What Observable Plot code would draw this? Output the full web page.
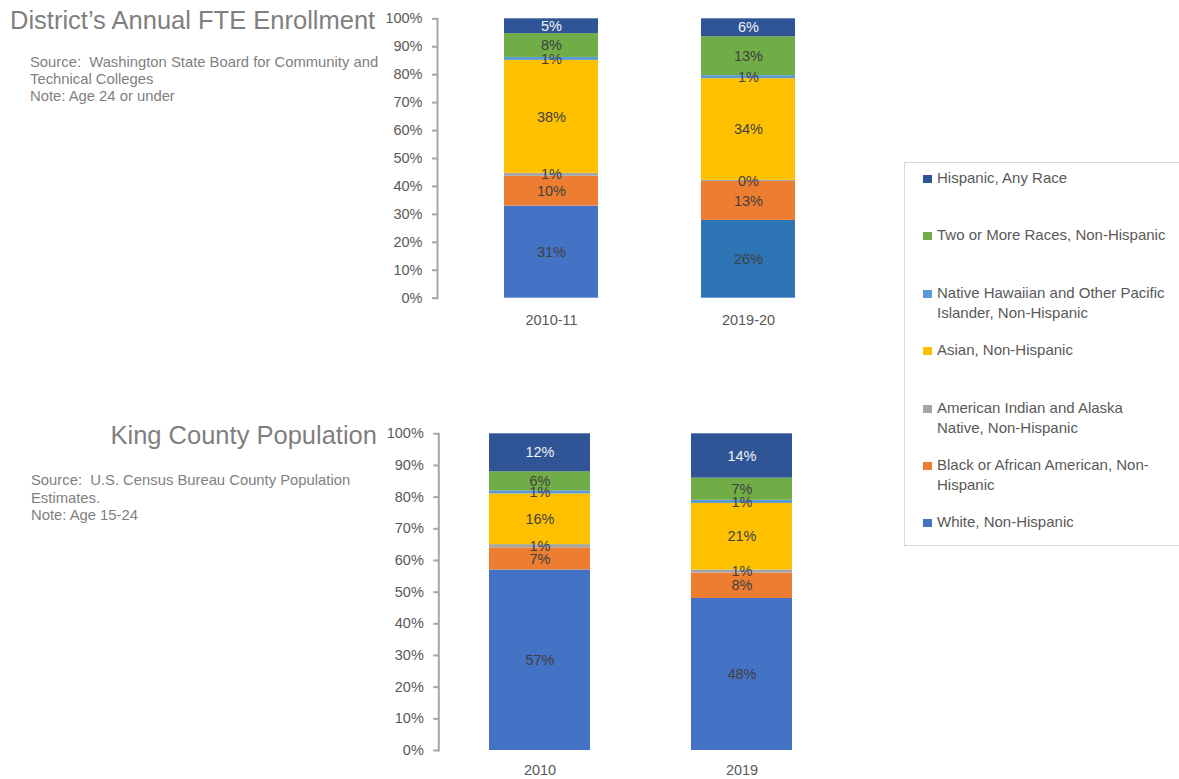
<!DOCTYPE html>
<html>
<head>
<meta charset="utf-8">
<script src="https://cdn.jsdelivr.net/npm/d3@7"></script>
<script src="https://cdn.jsdelivr.net/npm/@observablehq/plot@0.6"></script>
<style>
  html, body { margin: 0; padding: 0; background: #fff; }
  #page { position: relative; width: 1179px; height: 779px; overflow: hidden; font-family: "Liberation Sans", Arial, sans-serif; }
  .abs { position: absolute; }
  .title { font-size: 25.5px; line-height: 1; color: #7f7f7f; white-space: nowrap; }
  .note { font-size: 14.8px; line-height: 17.4px; color: #7f7f7f; }
  #legend { left: 904px; top: 162px; width: 300px; height: 384px; border: 1px solid #d9d9d9; box-sizing: border-box; }
  .entry { position: absolute; left: 18px; width: 250px; display: flex; align-items: flex-start; }
  .swatch { width: 9px; height: 8px; margin-top: 7px; margin-right: 5px; flex: none; }
  .entry span { font-size: 15px; line-height: 20px; color: #595959; width: 236px; }
  svg { display: block; }
</style>
</head>
<body>
<div id="page">
  <div id="fte" class="abs" style="left:0;top:0"></div>
  <div id="pop" class="abs" style="left:0;top:400px"></div>

  <div class="abs title" style="left:10px;top:8.4px">District’s Annual FTE Enrollment</div>
  <div class="abs note" style="left:30px;top:53.6px;width:360px">Source:&nbsp; Washington State Board for Community and<br>Technical Colleges<br>Note: Age 24 or under</div>

  <div class="abs title" style="left:0;top:423.4px;width:377px;text-align:right">King County Population</div>
  <div class="abs note" style="left:31px;top:472.4px;width:360px">Source:&nbsp; U.S. Census Bureau County Population<br>Estimates.<br>Note: Age 15-24</div>

  <div id="legend" class="abs"></div>
</div>
<script>
// Race / ethnicity groups, stacked bottom to top
const groups = [
  "White, Non-Hispanic",
  "Black or African American, Non-Hispanic",
  "American Indian and Alaska Native, Non-Hispanic",
  "Asian, Non-Hispanic",
  "Native Hawaiian and Other Pacific Islander, Non-Hispanic",
  "Two or More Races, Non-Hispanic",
  "Hispanic, Any Race"
];
const groupColors = ["#4472C4", "#ED7D31", "#A5A5A5", "#FFC000", "#5B9BD5", "#70AD47", "#2F5597"];

// District annual FTE enrollment (age 24 or under), percent by group
const fteYears = ["2010-11", "2019-20"];
const fte2010 = [31, 10, 1, 38, 1, 8, 5];
const fte2019 = [26, 13, 0.4, 34, 1, 13, 6];

// King County population (age 15-24), percent by group
const popYears = ["2010", "2019"];
const pop2010 = [57, 7, 1, 16, 1, 6, 12];
const pop2019 = [48, 8, 1, 21, 1, 7, 14];

const yTicks = [0, 10, 20, 30, 40, 50, 60, 70, 80, 90, 100];

// the 2019-20 enrollment bar uses a deeper blue for its White segment
const fillOverrides = { "2019-20|White, Non-Hispanic": "#2E75B6" };

function stackedChart({ years, series, width, height, marginTop, marginBottom, marginLeft, paddingInner, paddingOuter, xPadding }) {
  const rows = years.flatMap((yr, i) => groups.map((g, j) => ({ period: yr, group: g, value: series[i][j] })));
  const fillOf = d => fillOverrides[d.period + "|" + d.group] ?? groupColors[groups.indexOf(d.group)];
  const stack = opts => Plot.stackY({ x: "period", y: "value", z: "group", order: groups, offset: "normalize", ...opts });
  return Plot.plot({
    width, height, marginTop, marginBottom, marginLeft, marginRight: 0,
    style: { fontFamily: "'Liberation Sans', Arial, sans-serif", background: "transparent", overflow: "visible" },
    x: { domain: years, paddingInner, paddingOuter, label: null },
    y: { domain: [0, 1], label: null },
    color: { type: "identity" },
    marks: [
      Plot.barY(rows, stack({ fill: fillOf })),
      Plot.text(rows, stack({
        text: d => Math.round(d.value) + "%",
        fill: d => d.group === "Hispanic, Any Race" ? "#F2F2F2" : "#404040",
        fontSize: 14.5
      })),
      Plot.frame({ anchor: "left", stroke: "#A6A6A6", strokeWidth: 2 }),
      Plot.axisY({
        ticks: yTicks.map(t => t / 100),
        tickFormat: d => Math.round(d * 100) + "%",
        tickSize: 5, tickPadding: 10,
        stroke: "#A6A6A6", strokeWidth: 2,
        fill: "#595959", fontSize: 14.5, label: null
      }),
      Plot.axisX({ tickSize: 0, tickPadding: xPadding, fill: "#595959", fontSize: 14.5, label: null })
    ]
  });
}

document.getElementById("fte").append(stackedChart({
  years: fteYears, series: [fte2010, fte2019],
  width: 862, height: 340, marginTop: 18.3, marginBottom: 42.3, marginLeft: 437,
  paddingInner: 0.524, paddingOuter: 0.337, xPadding: 17
}));

document.getElementById("pop").append(stackedChart({
  years: popYears, series: [pop2010, pop2019],
  width: 843, height: 379, marginTop: 33.3, marginBottom: 29, marginLeft: 438.3,
  paddingInner: 0.5, paddingOuter: 0.248, xPadding: 14.5
}));

// Legend, top entry first
const legend = document.getElementById("legend");
groups.slice().reverse().forEach((g, k) => {
  const color = groupColors[groups.indexOf(g)];
  const row = document.createElement("div");
  row.className = "entry";
  row.style.top = (5 + 57.4 * k) + "px";
  row.innerHTML = `<div class="swatch" style="background:${color}"></div><span></span>`;
  row.querySelector("span").textContent = g;
  legend.append(row);
});
</script>
</body>
</html>
